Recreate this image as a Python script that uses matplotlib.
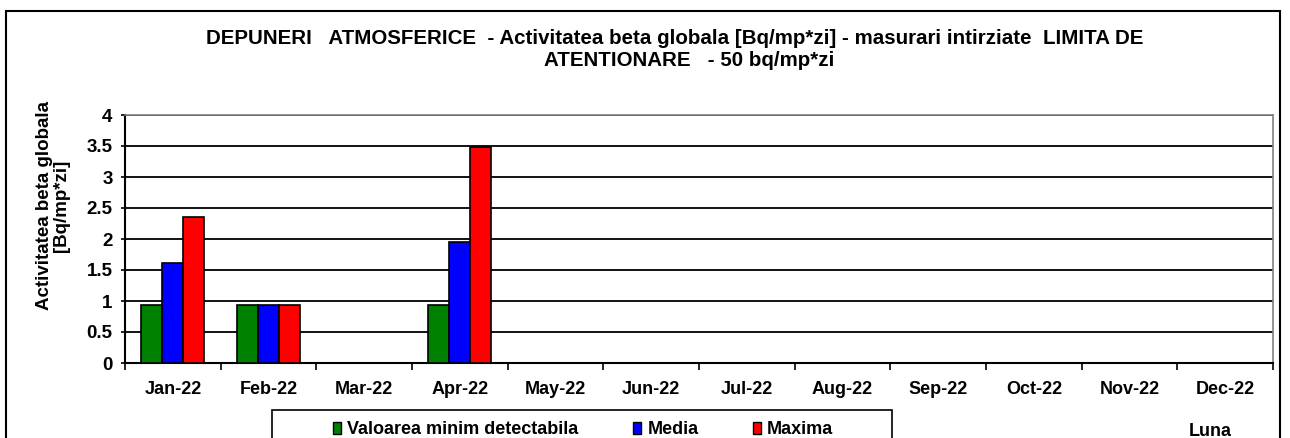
import matplotlib
matplotlib.use("Agg")
import matplotlib.pyplot as plt
from matplotlib.patches import Rectangle, Patch
import numpy as np

plt.rcParams['font.family'] = ['Liberation Sans', 'DejaVu Sans']

months = ["Jan-22", "Feb-22", "Mar-22", "Apr-22", "May-22", "Jun-22",
          "Jul-22", "Aug-22", "Sep-22", "Oct-22", "Nov-22", "Dec-22"]
min_detect = [0.94, 0.94, 0, 0.94, 0, 0, 0, 0, 0, 0, 0, 0]
media = [1.62, 0.94, 0, 1.95, 0, 0, 0, 0, 0, 0, 0, 0]
maxima = [2.36, 0.94, 0, 3.48, 0, 0, 0, 0, 0, 0, 0, 0]
series_names = ["Valoarea minim detectabila", "Media", "Maxima"]
colors = ["#008000", "#0000FF", "#FF0000"]
title_line1 = "DEPUNERI   ATMOSFERICE  - Activitatea beta globala [Bq/mp*zi] - masurari intirziate  LIMITA DE"
title_line2 = "ATENTIONARE   - 50 bq/mp*zi"
ylabel = "Activitatea beta globala\n[Bq/mp*zi]"
xlabel = "Luna"

W, H = 1290, 438
fig = plt.figure(figsize=(W / 100, H / 100), dpi=100)
ax = fig.add_axes([125 / W, (H - 363) / H, 1148 / W, 248 / H])

x = np.arange(len(months))
bw = 0.219
for i, (vals, c) in enumerate(zip([min_detect, media, maxima], colors)):
    v = np.array(vals, dtype=float)
    mask = v > 0
    ax.bar(x[mask] + (i - 1) * bw, v[mask], width=bw, color=c,
           edgecolor="black", linewidth=1.2, zorder=3)

ax.set_xlim(-0.5, len(months) - 0.5)
ax.set_ylim(0, 4)
ax.set_yticks(np.arange(0, 4.01, 0.5))
ax.set_yticklabels(["0", "0.5", "1", "1.5", "2", "2.5", "3", "3.5", "4"],
                   fontsize=13.5, fontweight="bold")
ax.set_xticks(x)
ax.set_xticklabels(months, fontsize=13, fontweight="bold")
ax.tick_params(axis="x", which="major", length=0, pad=13)
ax.set_xticks(np.arange(-0.5, len(months), 1), minor=True)
ax.tick_params(axis="x", which="minor", length=5, width=1.2, color="black")
ax.tick_params(axis="y", length=3, width=1.2, pad=6)
ax.yaxis.grid(True, color="black", linewidth=1.3, zorder=0)
ax.set_axisbelow(True)
for s in ["top", "right"]:
    ax.spines[s].set_color("#808080")
    ax.spines[s].set_linewidth(1.2)
for s in ["left", "bottom"]:
    ax.spines[s].set_color("black")
    ax.spines[s].set_linewidth(1.5)

fig.text(675 / W, 1 - 39 / H, title_line1, ha="center", va="center",
         fontsize=14.8, fontweight="bold")
fig.text(689 / W, 1 - 61 / H, title_line2, ha="center", va="center",
         fontsize=14.8, fontweight="bold")
fig.text(53 / W, 1 - 206 / H, ylabel, ha="center", va="center",
         rotation=90, fontsize=13.5, fontweight="bold", linespacing=1.0)
fig.text(1210 / W, 1 - 432 / H, xlabel, ha="center", va="center",
         fontsize=13, fontweight="bold")

# outer chart frame
fig.patches.append(Rectangle((6 / W, -0.05), (1280 - 6) / W, 1.05 - 11 / H,
                             transform=fig.transFigure, fill=False,
                             edgecolor="black", linewidth=1.5))
# legend frame
fig.patches.append(Rectangle((272 / W, -0.05), (892 - 272) / W, 0.05 + (H - 410) / H,
                             transform=fig.transFigure, fill=False,
                             edgecolor="black", linewidth=1.2))
handles = [Patch(facecolor=c, edgecolor="black", linewidth=1.0) for c in colors]
leg = fig.legend(handles, series_names, ncol=3, frameon=False,
                 loc="center left", bbox_to_anchor=(333 / W, 1 - 430 / H),
                 prop={"size": 13, "weight": "bold"},
                 handlelength=0.45, handleheight=0.6, handletextpad=0.35,
                 columnspacing=3.0, borderpad=0, borderaxespad=0)

fig.savefig("out.png", dpi=100)
